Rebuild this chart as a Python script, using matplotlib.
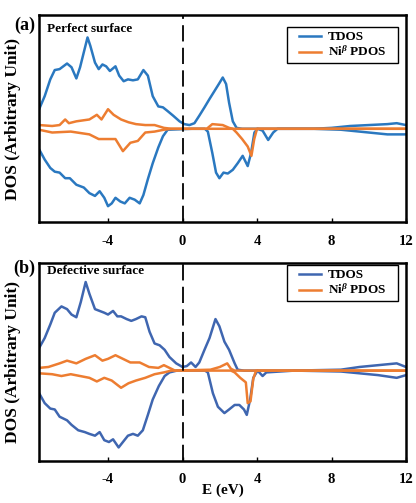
import numpy as np
import matplotlib
matplotlib.use('Agg')
import matplotlib.pyplot as plt
from matplotlib.patches import Rectangle

plt.rcParams['font.family'] = 'Liberation Serif'
plt.rcParams['font.weight'] = 'bold'
plt.rcParams['mathtext.fontset'] = 'custom'
plt.rcParams['mathtext.rm'] = 'Liberation Serif:bold'
plt.rcParams['mathtext.it'] = 'Liberation Serif:italic:bold'

# panel (a) perfect surface
a_tdos_up_x = [-7.7, -7.4, -7.1, -6.86, -6.6, -6.2, -5.96, -5.7, -5.5, -5.3, -5.1, -4.95, -4.7, -4.5, -4.3,
               -4.1, -3.9, -3.6, -3.4, -3.16, -2.93, -2.66, -2.4, -2.1, -1.86, -1.6, -1.3, -1.05, -0.8, -0.5,
               -0.16, 0.1, 0.37, 0.64, 0.9, 1.18, 1.45, 1.7, 1.98, 2.16, 2.34, 2.5, 2.7, 2.9, 3.2,
               5.0, 7.0, 8.0, 9.0, 10.0, 11.0, 11.5, 12.0]
a_tdos_up_y = [0.21, 0.35, 0.53, 0.63, 0.64, 0.70, 0.66, 0.54, 0.66, 0.82, 0.98, 0.89, 0.71, 0.64, 0.69,
               0.67, 0.62, 0.67, 0.57, 0.51, 0.53, 0.52, 0.53, 0.63, 0.57, 0.35, 0.24, 0.23, 0.19, 0.14,
               0.08, 0.05, 0.04, 0.06, 0.14, 0.23, 0.32, 0.40, 0.49, 0.55, 0.48, 0.28, 0.08, 0.01, 0.0,
               0.0, 0.0, 0.01, 0.03, 0.04, 0.05, 0.06, 0.04]
a_tdos_dn_x = [-7.7, -7.4, -7.1, -6.86, -6.6, -6.3, -6.05, -5.7, -5.3, -5.0, -4.7, -4.45, -4.2, -4.0, -3.8,
               -3.6, -3.34, -3.1, -2.84, -2.57, -2.3, -2.1, -1.86, -1.6, -1.3, -1.05, -0.8, 0.5, 1.2, 1.36,
               1.6, 1.8, 1.98, 2.2, 2.43, 2.7, 2.96, 3.23, 3.5, 3.68, 3.86, 4.03, 4.3, 4.6, 4.87,
               5.1, 7.0, 8.5, 10.0, 11.0, 12.0]
a_tdos_dn_y = [-0.22, -0.33, -0.42, -0.46, -0.47, -0.53, -0.53, -0.60, -0.63, -0.69, -0.72, -0.67, -0.74, -0.83, -0.80,
               -0.74, -0.78, -0.80, -0.74, -0.76, -0.80, -0.71, -0.54, -0.37, -0.20, -0.08, -0.01, 0.0, 0.0, -0.03,
               -0.26, -0.47, -0.53, -0.47, -0.48, -0.44, -0.37, -0.29, -0.40, -0.26, -0.04, 0.0, -0.02, -0.12, -0.04,
               0.0, 0.0, -0.01, -0.04, -0.06, -0.06]
a_pdos_up_x = [-7.7, -7.0, -6.6, -6.3, -6.1, -5.7, -5.0, -4.6, -4.35, -4.0, -3.7, -3.3, -2.9, -2.5, -2.0,
               -1.5, -1.0, -0.6, 1.3, 1.6, 2.16, 2.5, 2.7, 12.0]
a_pdos_up_y = [0.04, 0.03, 0.04, 0.10, 0.06, 0.08, 0.10, 0.15, 0.10, 0.21, 0.15, 0.10, 0.07, 0.05, 0.04,
               0.04, 0.01, 0.0, 0.0, 0.05, 0.04, 0.01, 0.0, 0.0]
a_pdos_dn_x = [-7.7, -7.0, -6.0, -5.0, -4.5, -4.0, -3.6, -3.2, -2.8, -2.4, -2.0, -1.5, -1.0, -0.6,
               2.7, 2.9, 3.2, 3.5, 3.7, 3.85, 4.0, 12.0]
a_pdos_dn_y = [-0.01, -0.04, -0.03, -0.06, -0.11, -0.11, -0.11, -0.24, -0.15, -0.13, -0.04, -0.03, -0.01, 0.0,
               0.0, -0.04, -0.11, -0.19, -0.29, -0.11, 0.0, 0.0]

# panel (b) defective surface
b_tdos_up_x = [-7.7, -7.4, -7.1, -6.86, -6.5, -6.2, -5.96, -5.7, -5.46, -5.2, -5.0, -4.7, -4.45, -4.2, -4.0,
               -3.73, -3.5, -3.3, -3.0, -2.75, -2.5, -2.2, -2.0, -1.77, -1.5, -1.23, -0.96, -0.7, -0.34, 0.0,
               0.23, 0.46, 0.7, 0.9, 1.18, 1.45, 1.77, 1.98, 2.25, 2.5, 2.8, 2.96, 3.3, 6.0, 8.5,
               9.5, 10.5, 11.5, 12.0]
b_tdos_up_y = [0.25, 0.36, 0.51, 0.64, 0.71, 0.68, 0.62, 0.59, 0.76, 0.98, 0.85, 0.68, 0.66, 0.64, 0.62,
               0.66, 0.60, 0.60, 0.57, 0.55, 0.57, 0.60, 0.59, 0.43, 0.30, 0.28, 0.23, 0.15, 0.08, 0.04,
               0.05, 0.09, 0.04, 0.09, 0.23, 0.36, 0.57, 0.49, 0.32, 0.23, 0.08, 0.01, 0.0, 0.0, 0.01,
               0.04, 0.06, 0.08, 0.04]
b_tdos_dn_x = [-7.7, -7.4, -7.1, -6.86, -6.6, -6.2, -5.96, -5.6, -5.25, -5.0, -4.7, -4.45, -4.2, -3.95, -3.73,
               -3.43, -3.2, -2.93, -2.66, -2.4, -2.13, -1.86, -1.6, -1.27, -0.96, -0.7, -0.3, 1.2, 1.36, 1.63,
               1.9, 2.25, 2.5, 2.8, 3.05, 3.3, 3.45, 3.63, 3.8, 4.03, 4.3, 4.5, 6.0, 8.5, 9.5,
               10.5, 11.5, 12.0]
b_tdos_dn_y = [-0.25, -0.36, -0.42, -0.43, -0.51, -0.55, -0.60, -0.66, -0.68, -0.70, -0.72, -0.68, -0.77, -0.79, -0.76,
               -0.85, -0.79, -0.72, -0.70, -0.72, -0.66, -0.49, -0.32, -0.17, -0.06, -0.02, 0.0, 0.0, -0.02, -0.25,
               -0.40, -0.47, -0.43, -0.38, -0.38, -0.43, -0.49, -0.32, -0.08, 0.0, -0.06, -0.02, 0.0, -0.01, -0.03,
               -0.05, -0.08, -0.05]
b_pdos_up_x = [-7.7, -7.2, -6.6, -6.2, -5.7, -5.2, -4.7, -4.3, -4.0, -3.6, -3.2, -2.8, -2.3, -1.8, -1.3,
               -1.0, -0.7, -0.4, 1.5, 2.0, 2.4, 2.6, 2.8, 12.0]
b_pdos_up_y = [0.03, 0.04, 0.08, 0.11, 0.08, 0.13, 0.17, 0.11, 0.13, 0.17, 0.13, 0.09, 0.09, 0.04, 0.03,
               0.06, 0.03, 0.0, 0.01, 0.04, 0.08, 0.02, 0.0, 0.0]
b_pdos_dn_x = [-7.7, -7.0, -6.5, -6.0, -5.5, -5.0, -4.6, -4.2, -3.8, -3.3, -2.9, -2.5, -2.0, -1.5, -1.0,
               -0.6, 2.6, 2.8, 3.1, 3.4, 3.5, 3.65, 3.8, 3.95, 12.0]
b_pdos_dn_y = [-0.03, -0.04, -0.06, -0.04, -0.06, -0.08, -0.12, -0.08, -0.11, -0.19, -0.14, -0.11, -0.08, -0.04, -0.02,
               0.0, 0.0, -0.02, -0.08, -0.13, -0.36, -0.34, -0.09, 0.0, 0.0]

xticks = [-4, 0, 4, 8, 12]

fig = plt.figure(figsize=(4.16, 5.03), dpi=100)
ax_a = fig.add_axes([0.094, 0.5586, 0.882, 0.4115])
ax_b = fig.add_axes([0.094, 0.0835, 0.882, 0.3936])

# (axes, label, title, blue, label y, title y, legend top, ...data, ylim top)
panels = [
    (ax_a, '(a)', 'Perfect surface', '#2a78c0', 0.948, 0.932, 0.942,
     a_tdos_up_x, a_tdos_up_y, a_tdos_dn_x, a_tdos_dn_y,
     a_pdos_up_x, a_pdos_up_y, a_pdos_dn_x, a_pdos_dn_y, 1.22),
    (ax_b, '(b)', 'Defective surface', '#3f66b0', 0.975, 0.962, 0.99,
     b_tdos_up_x, b_tdos_up_y, b_tdos_dn_x, b_tdos_dn_y,
     b_pdos_up_x, b_pdos_up_y, b_pdos_dn_x, b_pdos_dn_y, 1.19),
]

orange = '#ed7d31'
legends = []
for (ax, lab, title, blue, laby, ttly, legy, tux, tuy, tdx, tdy, pux, puy, pdx, pdy, ytop) in panels:
    ax.plot(tux, tuy, color=blue, lw=1.8, label='TDOS')
    ax.plot(tdx, tdy, color=blue, lw=1.8)
    ax.plot(pux, puy, color=orange, lw=1.8, label=r'Ni$^{\beta}$ PDOS')
    ax.plot(pdx, pdy, color=orange, lw=1.8)
    ax.axvline(0, color='black', ls=(0, (9, 3.5)), lw=1.3)
    ax.set_xlim(-7.7, 12)
    ax.set_ylim(-1, ytop)
    ax.set_xticks(xticks)
    ax.set_xticklabels([str(t) for t in xticks], fontsize=10.5, fontweight='bold')
    ax.tick_params(axis='x', direction='in', length=3, width=1, pad=9)
    ax.set_yticks([])
    ax.set_ylabel('DOS (Arbitrary Unit)', fontsize=12.5, fontweight='bold')
    ax.yaxis.set_label_coords(-0.048, 0.5)
    for sp in ax.spines.values():
        sp.set_linewidth(1.8)
    ax.text(-0.011, laby, lab, transform=ax.transAxes, fontsize=13, fontweight='bold',
            ha='right', va='center')
    ax.text(0.022, ttly, title, transform=ax.transAxes, fontsize=9.5, fontweight='bold',
            ha='left', va='center')
    leg = ax.legend(loc='upper right', bbox_to_anchor=(0.978 - 0.02, legy), frameon=False,
                    borderaxespad=0, handlelength=1.7, handletextpad=0.55, borderpad=0.3,
                    labelspacing=0.12, prop={'weight': 'bold', 'size': 9.5})
    legends.append((ax, leg))

ax_b.set_xlabel('E (eV)', fontsize=11, fontweight='bold', labelpad=-2)

# legend frame, wider on the sides than matplotlib's uniform padding
fig.canvas.draw()
for ax, leg in legends:
    bb = leg.get_window_extent().transformed(ax.transAxes.inverted())
    padx = 0.02
    ax.add_patch(Rectangle((bb.x0 - padx, bb.y0), bb.width + 2 * padx, bb.height,
                           transform=ax.transAxes, facecolor='white', edgecolor='black',
                           lw=1.0, zorder=4))
    leg.set_zorder(5)

fig.savefig('out.png', dpi=100)
